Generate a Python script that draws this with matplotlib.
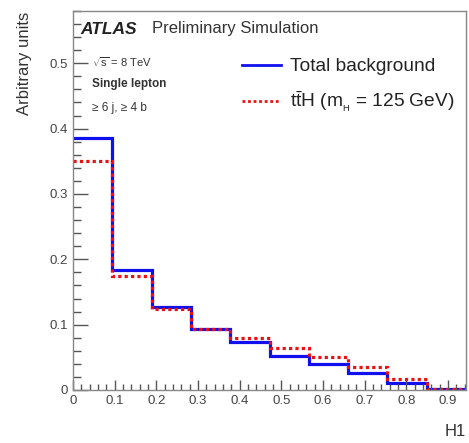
import numpy as np
import matplotlib
matplotlib.use("Agg")
import matplotlib.pyplot as plt
from matplotlib.ticker import MultipleLocator

plt.rcParams['font.family'] = ['Liberation Sans', 'DejaVu Sans']
plt.rcParams['mathtext.fontset'] = 'custom'
plt.rcParams['mathtext.rm'] = 'Liberation Sans'

bin_edges = [0.0, 0.0943, 0.1886, 0.2829, 0.3772, 0.4715, 0.5658, 0.6601, 0.7544, 0.8487, 0.943]
background = [0.385, 0.183, 0.127, 0.094, 0.074, 0.0525, 0.040, 0.0255, 0.010, 0.001]
tth = [0.351, 0.174, 0.124, 0.093, 0.079, 0.064, 0.051, 0.035, 0.017, 0.002]

fig = plt.figure(figsize=(4.69, 4.43), dpi=100)
ax = fig.add_axes([73/469, 53/443, 393/469, 379/443])

edges = np.array(bin_edges)
ax.stairs(background, edges, color='#1010ee', lw=2.3, label='Total background', baseline=None)
ax.stairs(tth, edges, color='#ee1010', lw=2.3, ls=(0, (1, 1)),
          label=r't$\mathregular{\bar{t}}$H (m$\mathregular{_{_H}}$ = 125 GeV)', baseline=None)

ax.set_xlim(0, 0.943)
ax.set_ylim(0, 0.58)
ax.xaxis.set_major_locator(MultipleLocator(0.1))
ax.xaxis.set_minor_locator(MultipleLocator(0.02))
ax.yaxis.set_major_locator(MultipleLocator(0.1))
ax.yaxis.set_minor_locator(MultipleLocator(0.02))
ax.tick_params(which='both', direction='in', top=False, right=False, colors='#555555', labelsize=9.5)
ax.tick_params(which='major', axis='y', length=11, width=1)
ax.tick_params(which='minor', axis='y', length=6, width=1)
ax.tick_params(which='major', axis='x', length=7, width=1)
ax.tick_params(which='minor', axis='x', length=4, width=1)
ax.xaxis.set_major_formatter(plt.FuncFormatter(lambda v, p: '0' if abs(v) < 1e-9 else f'{v:.1f}'))
ax.yaxis.set_major_formatter(plt.FuncFormatter(lambda v, p: '0' if abs(v) < 1e-9 else f'{v:.1f}'))
for lab in ax.get_xticklabels() + ax.get_yticklabels():
    lab.set_color('#444444')
for s in ax.spines.values():
    s.set_color('#888888')
    s.set_linewidth(1)

fig.text(25/469, 1 - 12/443, 'Arbitrary units', rotation=90, ha='center', va='top', fontsize=12, color='#333333')
fig.text(466/469, 1 - 432/443, 'H1', ha='right', va='center', fontsize=12, color='#333333')

fig.text(80/469, 1 - 29/443, 'ATLAS', fontsize=12.5, fontweight='bold', fontstyle='italic', va='center', color='#222222')
fig.text(152/469, 1 - 29/443, 'Preliminary Simulation', fontsize=12, va='center', color='#333333')
fig.text(92/469, 1 - 62/443, r'$\mathregular{\sqrt{s}}$ = 8 TeV', fontsize=8, va='center', color='#333333')
fig.text(92/469, 1 - 84/443, 'Single lepton', fontsize=8.5, fontweight='bold', va='center', color='#333333')
fig.text(92/469, 1 - 108/443, '≥ 6 j, ≥ 4 b', fontsize=8.5, va='center', color='#333333')

leg = ax.legend(loc='upper left', bbox_to_anchor=(242/469, 1 - 58/443), bbox_transform=fig.transFigure,
                frameon=False, fontsize=13.8, borderpad=0, borderaxespad=0,
                handlelength=2.05, handletextpad=0.45, labelspacing=0.75)
for t in leg.get_texts():
    t.set_color('#222222')
for h in leg.get_lines():
    h.set_linewidth(2)

fig.savefig('out.png', dpi=100)
